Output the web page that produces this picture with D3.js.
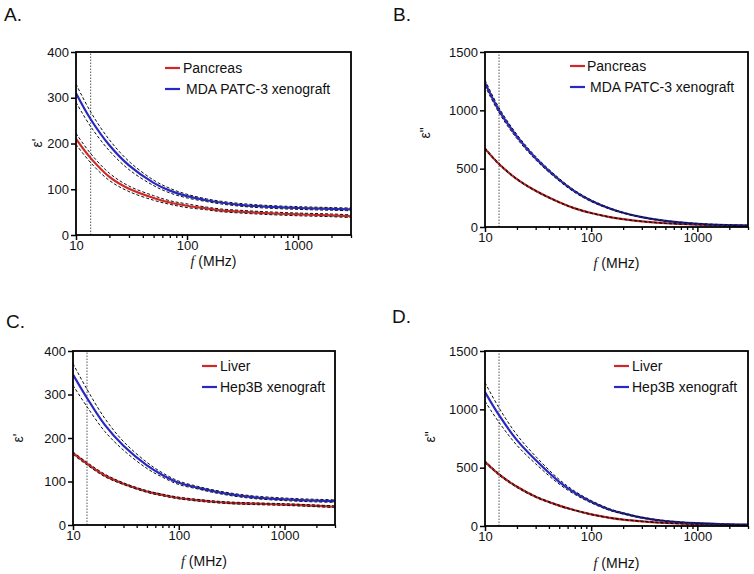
<!DOCTYPE html>
<html><head><meta charset="utf-8">
<script src="https://cdn.jsdelivr.net/npm/d3@7"></script>
<style>
body{margin:0;background:#fff}
svg{display:block}
text{font-family:"Liberation Sans",Arial,Helvetica,sans-serif;fill:#111}
</style>
</head><body>
<svg id="chart" width="754" height="574"></svg>
<script>
// ---------- data ----------
const freqs = [10, 13.56, 20, 30, 50, 70, 100, 150, 200, 300, 500, 1000, 2000, 3000];
const refFreq = 13.56;
const xMajorTicks = [10, 100, 1000];
const xMinorTicks = [20,30,40,50,60,70,80,90,200,300,400,500,600,700,800,900,2000,3000];
const yTicksPrime = [0, 100, 200, 300, 400];
const yTicksDouble = [0, 500, 1000, 1500];
const legendPancreas = ["Pancreas", "MDA PATC-3 xenograft"];
const legendLiver = ["Liver", "Hep3B xenograft"];
const panelLabels = ["A.", "B.", "C.", "D."];

// Panel A: eps' pancreas vs MDA PATC-3
const aPancreas     = [210, 168, 127, 101, 81, 71, 64, 58, 54, 51, 48, 45, 43, 41];
const aPancreasBand = [12, 10, 8, 6, 5, 4, 4, 3, 3, 3, 3, 3, 3, 3];
const aMda          = [310, 253, 196, 152, 114, 97, 85, 76, 71, 66, 62, 59, 57, 56];
const aMdaBand      = [20, 16, 12, 9, 6, 5, 4, 3, 3, 3, 3, 3, 3, 3];
// Panel B: eps'' pancreas vs MDA PATC-3
const bPancreas     = [672, 540, 410, 310, 212, 160, 120, 85, 67, 48, 32, 20, 13, 11];
const bPancreasBand = [7, 6, 5, 4, 3, 3, 3, 2, 2, 2, 2, 2, 2, 2];
const bMda          = [1235, 1000, 775, 590, 405, 305, 225, 158, 122, 84, 52, 28, 16, 12];
const bMdaBand      = [25, 22, 18, 15, 11, 9, 7, 5, 4, 3, 3, 3, 3, 3];
// Panel C: eps' liver vs Hep3B
const cLiver        = [165, 141, 114, 95, 77, 69, 62, 57, 54, 51, 49, 47, 44, 42];
const cLiverBand    = [3, 3, 3, 2, 2, 2, 2, 2, 2, 2, 2, 2, 2, 2];
const cHep          = [346, 292, 230, 182, 137, 115, 97, 86, 79, 71, 64, 59, 56, 55];
const cHepBand      = [25, 20, 15, 10, 7, 5, 4, 3, 3, 3, 3, 3, 3, 3];
// Panel D: eps'' liver vs Hep3B
const dLiver        = [550, 442, 336, 251, 175, 135, 100, 70, 55, 40, 26, 16, 11, 9];
const dLiverBand    = [8, 7, 6, 5, 4, 3, 3, 2, 2, 2, 2, 2, 2, 2];
const dHep          = [1149, 950, 736, 565, 379, 285, 208, 140, 108, 72, 43, 24, 14, 11];
const dHepBand      = [80, 62, 45, 32, 20, 14, 10, 7, 5, 4, 3, 2, 2, 2];

const RED = "#d02828", BLUE = "#2828c4";

const panels = [
  {label: panelLabels[0], lx: 4, ly: 21, L: 76, T: 52, R: 351, B: 235, yMax: 400, yTicks: yTicksPrime,
   yTitle: "ε'", ytx: 37, yty: 143, xty: 266, legend: legendPancreas, legX: 165, legY: 68, legTx: [183, 186],
   series: [[aPancreas, aPancreasBand, RED], [aMda, aMdaBand, BLUE]]},
  {label: panelLabels[1], lx: 393, ly: 21, L: 485, T: 52, R: 748, B: 227, yMax: 1500, yTicks: yTicksDouble,
   yTitle: "ε\"", ytx: 425, yty: 133, xty: 268, legend: legendPancreas, legX: 570, legY: 66, legTx: [587, 590],
   series: [[bPancreas, bPancreasBand, RED], [bMda, bMdaBand, BLUE]]},
  {label: panelLabels[2], lx: 6, ly: 328, L: 73, T: 351, R: 335, B: 525, yMax: 400, yTicks: yTicksPrime,
   yTitle: "ε'", ytx: 18, yty: 438, xty: 566, legend: legendLiver, legX: 202, legY: 366, legTx: [220, 220],
   series: [[cLiver, cLiverBand, RED], [cHep, cHepBand, BLUE]]},
  {label: panelLabels[3], lx: 392, ly: 323, L: 485, T: 351, R: 748, B: 526, yMax: 1500, yTicks: yTicksDouble,
   yTitle: "ε\"", ytx: 430, yty: 437, xty: 568, legend: legendLiver, legX: 614, legY: 366, legTx: [632, 632],
   series: [[dLiver, dLiverBand, RED], [dHep, dHepBand, BLUE]]}
];

const svg = d3.select("#chart");

panels.forEach((p, pi) => {
  const x = d3.scaleLog().domain([10, 3000]).range([p.L, p.R]);
  const y = d3.scaleLinear().domain([0, p.yMax]).range([p.B, p.T]);
  const g = svg.append("g");

  g.append("clipPath").attr("id", "clip" + pi)
    .append("rect").attr("x", p.L).attr("y", p.T).attr("width", p.R - p.L).attr("height", p.B - p.T);

  const plot = g.append("g").attr("clip-path", `url(#clip${pi})`);

  // reference frequency
  plot.append("line")
    .attr("x1", x(refFreq)).attr("x2", x(refFreq)).attr("y1", p.B).attr("y2", p.T)
    .attr("stroke", "#555").attr("stroke-width", 1).attr("stroke-dasharray", "1.5,1.5");

  const line = d3.line().x(d => x(d[0])).y(d => y(d[1])).curve(d3.curveCatmullRom.alpha(0.5));

  p.series.forEach(([vals, band, col]) => {
    const mean = freqs.map((f, i) => [f, vals[i]]);
    const up = freqs.map((f, i) => [f, vals[i] + band[i]]);
    const lo = freqs.map((f, i) => [f, vals[i] - band[i]]);
    plot.append("path").attr("d", line(mean)).attr("fill", "none")
      .attr("stroke", col).attr("stroke-width", 2.2);
    [up, lo].forEach(b => plot.append("path").attr("d", line(b)).attr("fill", "none")
      .attr("stroke", "#111").attr("stroke-width", 1).attr("stroke-dasharray", "3,2"));
  });

  // frame
  g.append("rect").attr("x", p.L).attr("y", p.T).attr("width", p.R - p.L).attr("height", p.B - p.T)
    .attr("fill", "none").attr("stroke", "#000").attr("stroke-width", 1.8);

  // y axis
  const ya = g.append("g").attr("transform", `translate(${p.L},0)`)
    .call(d3.axisLeft(y).tickValues(p.yTicks).tickSize(5).tickPadding(2).tickFormat(d3.format("d")));
  ya.select(".domain").remove();
  ya.selectAll("line").attr("stroke", "#000").attr("stroke-width", 1.5);
  ya.selectAll("text").attr("font-size", 13).attr("fill", "#111").style("font-family", "Liberation Sans, Arial, sans-serif");

  // x axis major
  const xa = g.append("g").attr("transform", `translate(0,${p.B})`)
    .call(d3.axisBottom(x).tickValues(xMajorTicks).tickSize(5).tickPadding(1).tickFormat(d3.format("d")));
  xa.select(".domain").remove();
  xa.selectAll("line").attr("stroke", "#000").attr("stroke-width", 1.5);
  xa.selectAll("text").attr("font-size", 13).attr("fill", "#111").style("font-family", "Liberation Sans, Arial, sans-serif");
  // x axis minor
  const xm = g.append("g").attr("transform", `translate(0,${p.B})`)
    .call(d3.axisBottom(x).tickValues(xMinorTicks).tickSize(3).tickFormat(""));
  xm.select(".domain").remove();
  xm.selectAll("line").attr("stroke", "#000").attr("stroke-width", 1.3);

  // axis titles
  const xt = g.append("text").attr("x", (p.L + p.R) / 2).attr("y", p.xty)
    .attr("text-anchor", "middle").attr("font-size", 14);
  xt.append("tspan").text("f").attr("font-style", "italic").style("font-family", "Liberation Serif, Times New Roman, serif");
  xt.append("tspan").text(" (MHz)");

  g.append("text").attr("transform", `translate(${p.ytx},${p.yty}) rotate(-90)`)
    .attr("text-anchor", "middle").attr("dy", "0.35em").attr("font-size", 14).text(p.yTitle);

  // panel label
  g.append("text").attr("x", p.lx).attr("y", p.ly).attr("font-size", 19).text(p.label);

  // legend
  p.legend.forEach((name, i) => {
    const ly = p.legY + i * 21;
    const col = p.series[i][2];
    g.append("line").attr("x1", p.legX).attr("x2", p.legX + 15).attr("y1", ly).attr("y2", ly)
      .attr("stroke", col).attr("stroke-width", 2.2);
    g.append("text").attr("x", p.legTx[i]).attr("y", ly).attr("dy", "0.35em")
      .attr("font-size", 14).text(name);
  });
});
</script>
</body></html>
